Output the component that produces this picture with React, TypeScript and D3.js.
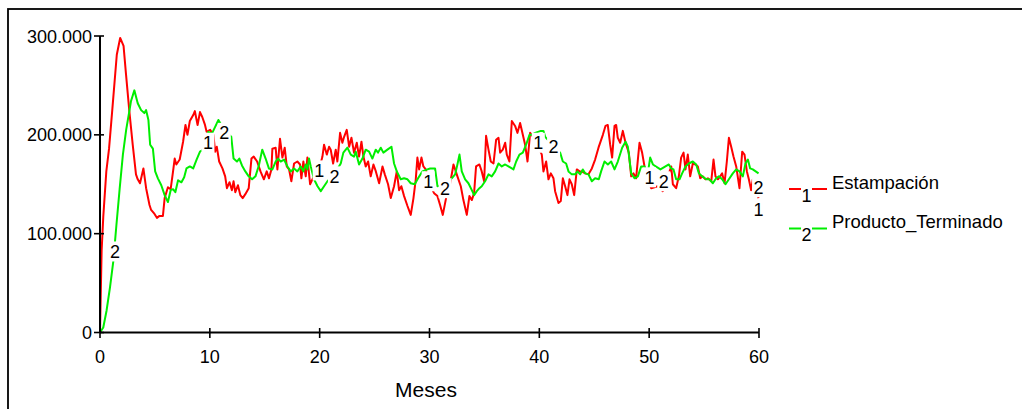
import React from "react";
import * as d3 from "d3";

// Months (as read, 10.9 px per month) and values (thousands)
const estMonths = [0,0.15,0.3,0.58,0.83,1.14,1.54,1.85,2.16,2.38,2.69,3.0,3.3,3.46,3.67,3.98,4.23,4.54,4.69,5.0,5.22,5.46,5.77,5.93,6.23,6.48,6.7,6.85,7.0,7.31,7.62,7.84,8.02,8.24,8.55,8.7,8.95,9.17,9.38,9.63,9.78,10.1,10.4,10.56,10.71,10.93,11.23,11.48,11.64,11.88,12.1,12.25,12.41,12.65,12.87,13.09,13.33,13.64,13.89,14.1,14.41,14.72,15.03,15.29,15.5,15.72,15.81,16.11,16.27,16.51,16.73,16.94,17.13,17.34,17.55,17.8,18.1,18.35,18.47,18.65,18.87,19.02,19.27,19.48,19.8,20.1,20.4,20.55,20.8,21.01,21.16,21.38,21.62,21.77,22.02,22.23,22.39,22.63,22.85,23.06,23.3,23.55,23.76,23.98,24.16,24.37,24.59,24.83,25.08,25.3,25.6,25.91,26.12,26.42,26.67,26.97,27.22,27.43,27.64,27.89,28.2,28.5,28.75,28.96,29.11,29.27,29.48,29.66,29.88,30.2,30.64,30.95,31.19,31.44,31.74,32.1,32.42,32.57,32.78,33.09,33.33,33.64,33.88,34.1,34.31,34.49,34.8,35.01,35.23,35.41,35.63,35.84,36.09,36.33,36.55,36.7,36.94,37.16,37.31,37.55,37.77,38.07,38.29,38.53,38.78,38.99,39.21,39.45,39.6,39.9,40.2,40.52,40.67,40.92,41.13,41.35,41.59,41.74,42.05,42.26,42.45,42.66,42.87,43.06,43.27,43.49,43.73,43.98,44.19,44.5,44.8,45.11,45.41,45.72,46.12,46.36,46.57,46.79,46.97,47.19,47.34,47.49,47.71,47.95,48.2,48.5,48.72,48.93,49.17,49.33,49.48,49.72,49.94,50.09,50.55,51.16,51.62,52.39,52.54,52.84,53.09,53.3,53.52,53.7,53.91,54.13,54.37,54.62,54.83,55.05,55.29,55.53,55.75,56.06,56.27,56.45,56.67,56.88,57.06,57.28,57.49,57.68,57.89,58.1,58.35,58.65,58.9,59.11,59.33,59.51,59.72,59.87,60.4];
const estValues = [0,83,117,163,186,227,281,298,290,262,224,190,160,155,151,166,146,129,124,120,116,118,118,136,147,145,163,176,170,175,193,210,200,214,220,224,210,223,218,210,203,205,200,183,188,173,166,158,146,152,144,153,142,149,139,136,140,146,176,178,173,163,155,163,156,165,186,187,165,196,177,187,168,165,153,171,173,170,156,173,158,177,150,155,160,165,178,190,180,188,185,171,185,173,202,192,198,205,188,197,182,192,178,193,178,168,173,158,170,163,151,168,160,150,136,148,163,144,148,138,128,119,136,155,177,165,177,168,165,150,141,138,129,119,136,150,170,165,158,148,134,119,138,134,141,168,170,163,153,199,185,173,171,195,197,182,185,192,180,173,214,209,202,212,200,190,173,202,200,195,188,180,163,173,155,161,156,143,131,133,156,148,139,155,150,139,165,163,163,161,160,166,175,187,200,209,210,190,177,209,210,197,192,204,192,182,158,161,156,175,192,182,168,160,146,148,143,168,150,146,158,177,182,165,180,158,171,170,168,156,158,155,156,153,175,158,155,158,161,151,173,197,188,178,168,146,183,180,163,155,144,155,136];

const ptMonths = [0,0.3,0.6,0.92,1.22,1.5,1.8,2.1,2.4,2.69,2.84,3.15,3.46,3.77,4.07,4.23,4.44,4.6,4.85,5.06,5.31,5.62,5.93,6.23,6.48,6.7,6.91,7.16,7.47,7.72,7.93,8.24,8.55,8.86,9.17,9.48,9.94,10.25,10.56,10.86,11.4,12.04,12.25,12.56,12.78,13.02,13.33,13.64,13.95,14.26,14.57,14.88,15.19,15.49,15.81,16.11,16.33,16.57,16.88,17.19,17.49,17.8,18.1,18.41,18.65,18.87,19.02,19.17,19.33,19.63,19.95,20.25,20.55,20.86,21.5,22.08,22.32,22.69,23.0,23.3,23.46,23.76,24.07,24.37,24.68,24.98,25.29,25.5,25.75,25.99,26.36,26.73,26.97,27.22,27.58,27.89,28.2,28.5,28.87,29.17,29.57,30.03,30.28,30.73,30.95,31.6,32.26,32.57,32.78,32.97,33.18,33.49,33.79,34.1,34.31,34.56,34.8,35.01,35.32,35.63,35.93,36.24,36.55,36.85,37.16,37.46,37.77,37.92,38.17,38.47,38.78,39.08,39.39,39.6,39.91,40.43,40.67,40.83,41.5,42.2,42.45,42.75,42.97,43.27,43.58,43.79,44.04,44.28,44.5,44.8,45.11,45.41,45.75,45.96,46.27,46.58,46.88,47.19,47.49,47.89,48.2,48.41,48.72,49.02,49.33,49.63,49.94,50.24,50.46,50.71,51.4,52.17,52.39,52.6,52.84,53.15,53.39,53.7,54.0,54.37,54.68,54.93,55.23,55.6,55.9,56.21,56.51,56.76,57.06,57.37,57.68,58.04,58.35,58.65,58.96,59.2,59.42,59.63,59.87,60.4];
const ptValues = [0,5,22,46,72,108,145,180,205,224,234,245,232,225,222,225,215,190,186,163,156,149,139,132,144,145,142,154,152,157,166,168,166,175,183,185,203,201,208,215,205,198,176,173,176,169,163,158,155,158,169,185,176,166,165,173,176,173,175,168,163,166,163,168,163,170,165,176,168,155,148,143,148,153,160,171,182,187,180,178,183,170,176,185,183,176,185,182,187,182,185,188,171,163,155,156,155,151,150,156,163,165,166,166,148,150,156,160,170,180,163,155,151,144,139,143,146,148,153,160,158,163,171,168,170,168,166,165,173,180,182,190,200,200,202,204,204,198,190,182,173,171,163,160,160,163,160,165,161,160,153,156,155,163,173,170,173,165,173,187,193,188,161,156,158,168,168,161,177,170,165,170,166,165,155,155,161,168,171,173,170,161,158,155,155,151,156,158,155,150,155,161,165,163,158,171,175,166,165,161];

// Series markers ("1" and "2") positions: months (as read) and values (thousands)
const estLabelMonths = [9.9, 20.1, 30.1, 40.2, 50.4, 60.4];
const estLabelValues = [192, 164, 153, 192, 157, 124];
const ptLabelMonths = [1.38, 11.4, 21.5, 31.65, 41.6, 51.7, 60.4];
const ptLabelValues = [82, 202, 158, 146, 188, 153, 147];

const xTicks = [0, 10, 20, 30, 40, 50, 60];
const yTicks = [0, 100000, 200000, 300000];
const yTickLabels = ["0", "100.000", "200.000", "300.000"];
const seriesNames = ["Estampación", "Producto_Terminado"];
const seriesMarks = ["1", "2"];

// months above were read assuming 10.9 px/month; the axis really spans 10.98 px/month
const READ_CAL = 10.9 / 10.98;

const RED = "#ff0000";
const GREEN = "#00ee00";
const FONT = "'Liberation Sans', Arial, Helvetica, sans-serif";

export default function App() {
  const x = d3.scaleLinear().domain([0, 60]).range([100, 759]);
  const y = d3.scaleLinear().domain([0, 300000]).range([332.5, 36]);
  const line = d3
    .line<[number, number]>()
    .x((d) => x(d[0]))
    .y((d) => y(d[1] * 1000));

  const est: [number, number][] = estMonths.map((m, i) => [m * READ_CAL, estValues[i]]);
  const pt: [number, number][] = ptMonths.map((m, i) => [m * READ_CAL, ptValues[i]]);

  const labels = [
    ...estLabelMonths.map((m, i) => ({ m: m * READ_CAL, v: estLabelValues[i], t: seriesMarks[0] })),
    ...ptLabelMonths.map((m, i) => ({ m: m * READ_CAL, v: ptLabelValues[i], t: seriesMarks[1] })),
  ];

  const legend = [
    { name: seriesNames[0], color: RED, mark: seriesMarks[0], ly: 189, ty: 188.5 },
    { name: seriesNames[1], color: GREEN, mark: seriesMarks[1], ly: 228.5, ty: 227.5 },
  ];

  return (
    <svg
      width={1022}
      height={409}
      style={{ position: "absolute", left: 0, top: 0, background: "#fff" }}
      fontFamily={FONT}
    >
      <rect x={0} y={0} width={1022} height={409} fill="#fff" />
      <rect x={8} y={9} width={2000} height={1000} fill="none" stroke="#000" strokeWidth={1.8} />

      {/* series */}
      <path d={line(est) || ""} fill="none" stroke={RED} strokeWidth={2} strokeLinejoin="round" />
      <path d={line(pt) || ""} fill="none" stroke={GREEN} strokeWidth={2} strokeLinejoin="round" />

      {/* series markers */}
      {labels.map((l, i) => (
        <g key={i}>
          <rect x={x(l.m) - 6.5} y={y(l.v * 1000) - 10} width={13} height={20} fill="#fff" />
          <text
            x={x(l.m)}
            y={y(l.v * 1000)}
            dy="0.36em"
            textAnchor="middle"
            fontSize={18}
            fill="#000"
          >
            {l.t}
          </text>
        </g>
      ))}

      {/* axes */}
      <line x1={100} x2={100} y1={y(300000)} y2={y(0)} stroke="#000" strokeWidth={2} />
      <line x1={100} x2={x(60)} y1={y(0)} y2={y(0)} stroke="#000" strokeWidth={2} />
      {yTicks.map((t, i) => (
        <g key={"y" + t}>
          <line x1={94} x2={104} y1={y(t)} y2={y(t)} stroke="#000" strokeWidth={1.6} />
          <text x={92} y={y(t) + 6.5} textAnchor="end" fontSize={18} fill="#000">
            {yTickLabels[i]}
          </text>
        </g>
      ))}
      {xTicks.map((t) => (
        <g key={"x" + t}>
          <line x1={x(t)} x2={x(t)} y1={328} y2={338} stroke="#000" strokeWidth={1.6} />
          <text x={x(t)} y={363} textAnchor="middle" fontSize={18} fill="#000">
            {t}
          </text>
        </g>
      ))}
      <text x={426} y={397} textAnchor="middle" fontSize={21} fill="#000">
        Meses
      </text>

      {/* legend */}
      {legend.map((l) => (
        <g key={l.name}>
          <line x1={789} x2={801} y1={l.ly} y2={l.ly} stroke={l.color} strokeWidth={2} />
          <line x1={812} x2={827} y1={l.ly} y2={l.ly} stroke={l.color} strokeWidth={2} />
          <text x={806.5} y={l.ly + 12.5} textAnchor="middle" fontSize={18} fill="#000">
            {l.mark}
          </text>
          <text x={832} y={l.ty} fontSize={18.5} fill="#000">
            {l.name}
          </text>
        </g>
      ))}
    </svg>
  );
}
